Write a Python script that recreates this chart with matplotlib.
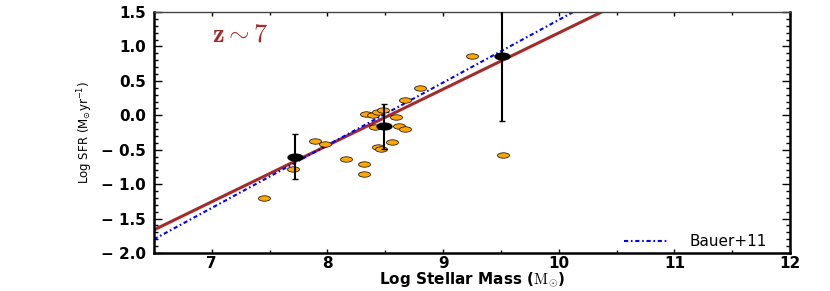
import numpy as np
import matplotlib
matplotlib.use("Agg")
import matplotlib.pyplot as plt
from matplotlib.path import Path
from matplotlib import font_manager

# individual galaxies (orange) at z~7
mass_gal = [7.45, 7.70, 7.89, 7.98, 8.16, 8.32, 8.32, 8.33, 8.39, 8.44, 8.48,
            8.41, 8.59, 8.62, 8.67, 8.56, 8.44, 8.46, 8.67, 8.80, 9.25, 9.52]
sfr_gal = [-1.20, -0.78, -0.38, -0.41, -0.63, -0.71, -0.85, 0.02, 0.01, 0.05, 0.07,
           -0.17, -0.02, -0.16, -0.20, -0.39, -0.46, -0.49, 0.22, 0.40, 0.86, -0.58]

# binned averages with error bars
mass_bin = [7.72, 8.49, 9.51]
sfr_bin = [-0.60, -0.15, 0.86]
err_lo = [0.33, 0.34, 0.95]
err_hi = [0.33, 0.32, 0.95]

# best fit line and Bauer+11 relation (end points)
fit_x = [6.5, 12.0]
fit_y = [-1.664, 2.83]
bauer_x = [6.5, 12.0]
bauer_y = [-1.80, 3.205]

# squashed ellipse marker, like the original
circ = Path.unit_circle()
ellipse = Path(circ.vertices * np.array([1.0, 0.45]), circ.codes)

fig = plt.figure(figsize=(8.30, 2.91), dpi=100)
ax = fig.add_axes([0.1855, 0.1306, 0.7663, 0.8282])

ax.plot(fit_x, fit_y, color="#a52a2a", lw=2.2, zorder=2)
ax.plot(bauer_x, bauer_y, color="blue", lw=1.5, linestyle=(0, (2.0, 1.3, 0.8, 1.3)),
        label="Bauer+11", zorder=2)

ax.scatter(mass_gal, sfr_gal, marker=ellipse, s=75, facecolor="orange",
           edgecolor="black", linewidth=0.5, zorder=3)

ax.errorbar(mass_bin, sfr_bin, yerr=[err_lo, err_hi], fmt="none", ecolor="black",
            elinewidth=1.5, capsize=2.5, capthick=1.0, zorder=4)
ax.scatter(mass_bin, sfr_bin, marker=ellipse, s=115, color="black", zorder=5)

ax.text(7.0, 1.18, r"$\mathbf{z \sim 7}$", color="#a52a2a", fontsize=19,
        math_fontfamily="cm", va="center", ha="left")

ax.set_xlim(6.5, 12)
ax.set_ylim(-2.0, 1.5)
ax.set_xticks([7, 8, 9, 10, 11, 12])
ax.set_xticks(np.arange(6.5, 12.01, 0.5), minor=True)
ax.set_yticks(np.arange(-2.0, 1.51, 0.5))
ax.set_yticks(np.arange(-2.0, 1.51, 0.1), minor=True)
ax.set_yticklabels(["%.1f" % v if v >= 0 else "\u2212 %.1f" % abs(v)
                    for v in np.arange(-2.0, 1.51, 0.5)])

ax.tick_params(axis="both", which="both", direction="in", top=True, right=True,
               width=1.0, colors="black")
ax.tick_params(axis="y", which="major", length=6, pad=6)
ax.tick_params(axis="y", which="minor", length=3)
ax.tick_params(axis="x", which="major", length=3, pad=2)
ax.tick_params(axis="x", which="minor", length=2)
for lab in ax.get_xticklabels() + ax.get_yticklabels():
    lab.set_fontsize(11)
    lab.set_fontweight("bold")

for side in ["left", "right", "bottom"]:
    ax.spines[side].set_linewidth(1.8)
    ax.spines[side].set_color("black")
ax.spines["top"].set_linewidth(1.0)
ax.spines["top"].set_color("#444444")

ax.set_xlabel(r"Log Stellar Mass ($\mathrm{M_{\odot}}$)", fontsize=11,
              fontweight="bold", labelpad=0, math_fontfamily="cm")

names = [f.name for f in font_manager.fontManager.ttflist]
if "Liberation Sans Narrow" in names:
    ax.set_ylabel(r"Log SFR (M$_{\odot}$yr$^{-1}$)", fontsize=10,
                  family="Liberation Sans Narrow", labelpad=4)
else:
    ax.set_ylabel(r"Log SFR (M$_{\odot}$yr$^{-1}$)", fontsize=8.5, labelpad=4)

leg = ax.legend(loc="lower right", bbox_to_anchor=(0.973, -0.01), frameon=False,
                fontsize=11, handlelength=2.9, handletextpad=1.4, borderaxespad=0)

fig.savefig("out.png", dpi=100)
